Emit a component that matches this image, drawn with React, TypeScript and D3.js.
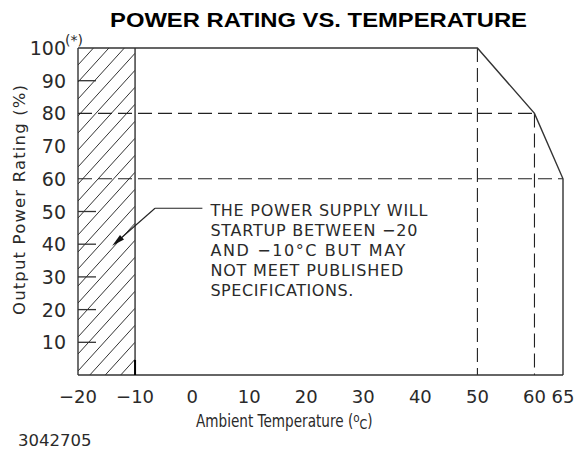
import React from "react";
import * as d3 from "d3";

const chartTitle = "POWER RATING VS. TEMPERATURE";
const tempTicks = [-20, -10, 0, 10, 20, 30, 40, 50, 60, 65];
const ratingTicks = [10, 20, 30, 40, 50, 60, 70, 80, 90, 100];
const ratingTickMarks = [10, 20, 30, 40, 50, 90];
const deratingTemp = [-20, 50, 60, 65, 65];
const deratingPct = [100, 100, 80, 60, 0];
const guideLevels = [80, 60];
const guideLevelEnds = [60, 65];
const guideTemps = [50, 60];
const guideTempTops = [100, 80];
const startupRange = [-20, -10];
const noteLines = [
  "THE POWER SUPPLY WILL",
  "STARTUP BETWEEN \u221220",
  "AND \u221210\u00B0C BUT MAY",
  "NOT MEET PUBLISHED",
  "SPECIFICATIONS.",
];
const noteWidths = [217, 207, 195, 193, 143];
const noteTip = [-14, 39.5];
const noteElbow = [-6.5, 51];
const noteTextStart = 3.2;
const partNumber = "3042705";

const W = 575;
const H = 450;
const cad = "'DejaVu Sans', sans-serif";

export default function App() {
  const x = d3.scaleLinear().domain([-20, 65]).range([78, 563]);
  const y = d3.scaleLinear().domain([0, 100]).range([375, 48]);
  const ink = "#2a2a2a";

  const deratingLine = d3
    .line<number>()
    .x((_, i) => x(deratingTemp[i]))
    .y((_, i) => y(deratingPct[i]))(deratingTemp);

  const hx0 = x(startupRange[0]);
  const hx1 = x(startupRange[1]);
  const hy0 = y(100);
  const hy1 = y(0);
  const hatchStep = 17;
  const hatchSpan = hx1 - hx0;
  const hatchRise = hatchSpan * 1.1;
  const hatchOffsets = d3.range(0, hy1 - hy0 + hatchRise + hatchStep, hatchStep);

  const tipX = x(noteTip[0]);
  const tipY = y(noteTip[1]);
  const elbX = x(noteElbow[0]);
  const elbY = y(noteElbow[1]);
  const txtX = x(noteTextStart);
  const ang = Math.atan2(tipY - elbY, tipX - elbX);
  const aL = 13;
  const aW = 3;
  const bx = tipX - aL * Math.cos(ang);
  const by = tipY - aL * Math.sin(ang);
  const px = -Math.sin(ang) * aW;
  const py = Math.cos(ang) * aW;

  return (
    <svg
      width={W}
      height={H}
      style={{ position: "absolute", left: 0, top: 0, background: "#fff" }}
    >
      <defs>
        <clipPath id="hatchClip">
          <rect x={hx0} y={hy0} width={hx1 - hx0} height={hy1 - hy0} />
        </clipPath>
      </defs>

      <text
        x={318.5}
        y={27}
        textAnchor="middle"
        fontFamily="'Liberation Sans', Arial, sans-serif"
        fontWeight="bold"
        fontSize={20.5}
        textLength={417}
        lengthAdjust="spacingAndGlyphs"
        fill="#000"
      >
        {chartTitle}
      </text>

      {/* hatched start-up region */}
      <g clipPath="url(#hatchClip)" stroke="#333" strokeWidth={1}>
        {hatchOffsets.map((o, i) => (
          <line
            key={i}
            x1={hx0}
            y1={hy0 + o}
            x2={hx0 + hatchSpan}
            y2={hy0 + o - hatchRise}
          />
        ))}
      </g>

      {/* guide dashed lines */}
      <g stroke="#222" strokeWidth={1.1} strokeDasharray="14,6" fill="none">
        {guideLevels.map((v, i) => (
          <line
            key={"h" + i}
            x1={x(-20)}
            x2={x(guideLevelEnds[i])}
            y1={y(v)}
            y2={y(v)}
          />
        ))}
        {guideTemps.map((t, i) => (
          <line
            key={"v" + i}
            x1={x(t)}
            x2={x(t)}
            y1={y(guideTempTops[i])}
            y2={y(0)}
          />
        ))}
      </g>

      {/* axes frame lines */}
      <g stroke="#333" strokeWidth={1.4} fill="none">
        <line x1={x(-20)} x2={x(-20)} y1={y(100)} y2={y(0)} />
        <line x1={x(-10)} x2={x(-10)} y1={y(100)} y2={y(0)} />
        <line x1={x(-20)} x2={x(65)} y1={y(0)} y2={y(0)} />
      </g>
      <line x1={x(-10)} x2={x(-10)} y1={y(0) - 15} y2={y(0)} stroke="#000" strokeWidth={2} />

      {/* y tick marks */}
      <g stroke="#333" strokeWidth={1.3}>
        {ratingTickMarks.map((v) => (
          <line key={v} x1={x(-20)} x2={x(-20) + 18} y1={y(v)} y2={y(v)} />
        ))}
      </g>

      {/* derating curve */}
      <path d={deratingLine || ""} fill="none" stroke="#333" strokeWidth={1.4} />

      {/* y labels */}
      <g fontFamily={cad} fontSize={19} fill={ink} textAnchor="end">
        {ratingTicks.map((v) => (
          <text key={v} x={66} y={y(v) + 7}>
            {v}
          </text>
        ))}
      </g>
      <text x={65} y={y(100) - 3} fontFamily={cad} fontSize={14} fill={ink}>
        (*)
      </text>

      {/* x labels */}
      <g fontFamily={cad} fontSize={18} fill={ink} textAnchor="middle">
        {tempTicks.map((v) => (
          <text key={v} x={x(v)} y={403}>
            {v < 0 ? "\u2212" + Math.abs(v) : String(v)}
          </text>
        ))}
      </g>

      {/* axis titles */}
      <g transform="translate(196,427) scale(0.8,1)">
        <text x={0} y={0} fontFamily={cad} fontSize={17} fill={ink}>
          Ambient Temperature (
          <tspan fontSize={13} dy={-5}>o</tspan>
          <tspan fontSize={14} dy={7}>C</tspan>
          <tspan dy={-2}>)</tspan>
        </text>
      </g>
      <text
        transform={`translate(25,200) rotate(-90)`}
        textAnchor="middle"
        fontFamily={cad}
        fontSize={16.5}
        fill={ink}
        textLength={230}
        lengthAdjust="spacing"
      >
        Output Power Rating (%)
      </text>

      {/* note */}
      <g stroke="#222" strokeWidth={1.1} fill="none">
        <line x1={elbX} y1={elbY} x2={txtX - 8} y2={elbY} />
        <line x1={elbX} y1={elbY} x2={bx} y2={by} />
      </g>
      <path
        d={`M${tipX},${tipY}L${bx + px},${by + py}L${bx - px},${by - py}Z`}
        fill="#111"
      />
      <g fontFamily={cad} fontSize={16} fill={ink}>
        {noteLines.map((s, i) => (
          <text
            key={i}
            x={txtX}
            y={216 + i * 20}
            textLength={noteWidths[i]}
            lengthAdjust="spacing"
          >
            {s}
          </text>
        ))}
      </g>

      <text x={18} y={446} fontFamily={cad} fontSize={16.5} fill={ink}>
        {partNumber}
      </text>
    </svg>
  );
}
